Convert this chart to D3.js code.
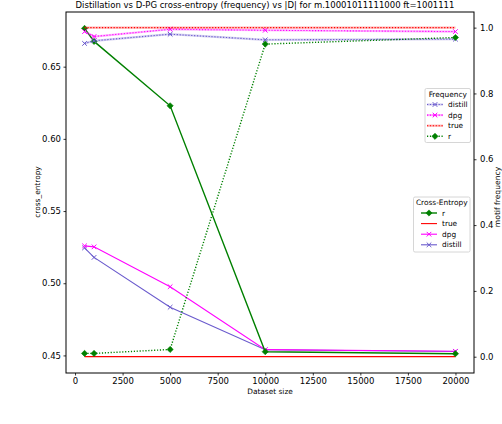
<!DOCTYPE html>
<html>
<head>
<meta charset="utf-8">
<script src="https://cdn.jsdelivr.net/npm/d3@7"></script>
<style>
  body { margin: 0; background: #fff; }
  text { font-family: "DejaVu Sans", sans-serif; fill: #000; }
</style>
</head>
<body>
<div id="chart"></div>
<script>
// dataset sizes on the x axis
var sizes = [500, 1000, 5000, 10000, 20000];

// cross-entropy (left axis, solid lines)
var ceR       = [0.6765, 0.6675, 0.6229, 0.4526, 0.4512];
var ceTrue    = [0.4492, 0.4492, 0.4492, 0.4492, 0.4492];
var ceDpg     = [0.5259, 0.5252, 0.4976, 0.4540, 0.4529];
var ceDistill = [0.5245, 0.5179, 0.4834, 0.4539, 0.4527];

// motif frequency (right axis, dotted lines)
var frDistill = [0.952, 0.960, 0.980, 0.963, 0.965];
var frDpg     = [0.988, 0.973, 0.995, 0.992, 0.988];
var frTrue    = [1.0, 1.0, 1.0, 1.0, 1.0];
var frR       = [0.010, 0.010, 0.022, 0.950, 0.970];

var xTicks  = [0, 2500, 5000, 7500, 10000, 12500, 15000, 17500, 20000];
var yLTicks = [0.45, 0.50, 0.55, 0.60, 0.65];
var yRTicks = [0.0, 0.2, 0.4, 0.6, 0.8, 1.0];

var title = "Distillation vs D-PG cross-entropy (frequency) vs |D| for m.10001011111000 ft=1001111";

var W = 502, H = 424;
var plot = {left: 66, right: 474, top: 12, bottom: 373};

function padded(lo, hi) {
    var m = (hi - lo) * 0.05;
    return [lo - m, hi + m];
}

var allCE = ceR.concat(ceTrue, ceDpg, ceDistill);

var xScale = d3.scaleLinear()
    .domain(padded(d3.min(sizes), d3.max(sizes)))
    .range([plot.left, plot.right]);

var yLeft = d3.scaleLinear()
    .domain(padded(d3.min(allCE), d3.max(allCE)))
    .range([plot.bottom, plot.top]);

// right axis range
var yRight = d3.scaleLinear()
    .domain([-0.0495, 1.0475])
    .range([plot.bottom, plot.top]);

var svg = d3.select("#chart").append("svg")
    .attr("width", W)
    .attr("height", H);

svg.append("rect").attr("width", W).attr("height", H).attr("fill", "#fff");

var green = "#008000", red = "#ff0000", magenta = "#ff00ff", slate = "#6a5acd";

var dotted = "1.2,1.7";

function drawMarker(g, kind, x, y, color) {
    if (kind == "x") {
        var s = 2.3;
        g.append("path")
            .attr("d", "M" + (x - s) + "," + (y - s) + "L" + (x + s) + "," + (y + s) +
                       "M" + (x - s) + "," + (y + s) + "L" + (x + s) + "," + (y - s))
            .attr("stroke", color)
            .attr("stroke-width", 1)
            .attr("fill", "none");
    } else if (kind == "D") {
        var d = 3.1;
        g.append("path")
            .attr("d", "M" + x + "," + (y - d) + "L" + (x + d) + "," + y +
                       "L" + x + "," + (y + d) + "L" + (x - d) + "," + y + "Z")
            .attr("fill", color)
            .attr("stroke", color)
            .attr("stroke-width", 0.6);
    }
}

// series definitions: values, colour, axis, style
function series(vals, color, scale, style, marker) {
    return {vals: vals, color: color, scale: scale, style: style, marker: marker};
}

var ceSeries = [
    series(ceTrue, red, yLeft, "solid", null),
    series(ceDistill, slate, yLeft, "solid", "x"),
    series(ceDpg, magenta, yLeft, "solid", "x"),
    series(ceR, green, yLeft, "solid", "D")
];

var frSeries = [
    series(frDistill, slate, yRight, "dotted", "x"),
    series(frDpg, magenta, yRight, "dotted", "x"),
    series(frTrue, red, yRight, "dotted", null),
    series(frR, green, yRight, "dotted", "D")
];

function drawSeries(s) {
    var g = svg.append("g");
    var line = d3.line()
        .x(function(d, i) { return xScale(sizes[i]); })
        .y(function(d) { return s.scale(d); });
    if (s.style == "solid") {
        g.append("path")
            .datum(s.vals)
            .attr("d", line)
            .attr("fill", "none")
            .attr("stroke", s.color)
            .attr("stroke-width", s.color == green ? 1.4 : 1.1);
    } else {
        // light band under the dotted frequency line
        if (s.color != green) {
            g.append("path")
                .datum(s.vals)
                .attr("d", line)
                .attr("fill", "none")
                .attr("stroke", s.color)
                .attr("stroke-opacity", 0.3)
                .attr("stroke-width", 2.2);
        }
        g.append("path")
            .datum(s.vals)
            .attr("d", line)
            .attr("fill", "none")
            .attr("stroke", s.color)
            .attr("stroke-width", s.color == green ? 1.4 : 1.1)
            .attr("stroke-dasharray", dotted);
    }
    if (s.marker) {
        s.vals.forEach(function(v, i) {
            drawMarker(g, s.marker, xScale(sizes[i]), s.scale(v), s.color);
        });
    }
}

ceSeries.forEach(drawSeries);
frSeries.forEach(drawSeries);

// frame
svg.append("rect")
    .attr("x", plot.left).attr("y", plot.top)
    .attr("width", plot.right - plot.left)
    .attr("height", plot.bottom - plot.top)
    .attr("fill", "none")
    .attr("stroke", "#000")
    .attr("stroke-width", 1);

// axes
function styleAxis(g) {
    g.select(".domain").remove();
    g.selectAll(".tick line").attr("stroke", "#000").attr("stroke-width", 0.8);
    g.selectAll(".tick text")
        .style("font-family", "DejaVu Sans")
        .style("font-size", "8.5px")
        .attr("fill", "#000");
}

svg.append("g")
    .attr("transform", "translate(0," + plot.bottom + ")")
    .call(d3.axisBottom(xScale).tickValues(xTicks).tickSize(2.5).tickPadding(2.5)
          .tickFormat(d3.format("d")))
    .call(styleAxis);

svg.append("g")
    .attr("transform", "translate(" + plot.left + ",0)")
    .call(d3.axisLeft(yLeft).tickValues(yLTicks).tickSize(2.5).tickPadding(2.5)
          .tickFormat(d3.format(".2f")))
    .call(styleAxis);

svg.append("g")
    .attr("transform", "translate(" + plot.right + ",0)")
    .call(d3.axisRight(yRight).tickValues(yRTicks).tickSize(2.5).tickPadding(3.5)
          .tickFormat(d3.format(".1f")))
    .call(styleAxis);

// title and labels
svg.append("text")
    .attr("x", 265)
    .attr("y", 7.6)
    .style("text-anchor", "middle")
    .style("font-size", "8.5px")
    .text(title);

svg.append("text")
    .attr("x", (plot.left + plot.right) / 2)
    .attr("y", 394)
    .style("text-anchor", "middle")
    .style("font-size", "7.4px")
    .text("Dataset size");

svg.append("text")
    .attr("transform", "translate(40,192) rotate(-90)")
    .style("text-anchor", "middle")
    .style("font-size", "7.4px")
    .text("cross_entropy");

svg.append("text")
    .attr("transform", "translate(500,197) rotate(-90)")
    .style("text-anchor", "middle")
    .style("font-size", "7.6px")
    .text("motif frequency");

// legends
function legend(box, titleText, items) {
    var g = svg.append("g");
    g.append("rect")
        .attr("x", box.x).attr("y", box.y)
        .attr("width", box.w).attr("height", box.h)
        .attr("rx", 1.5)
        .attr("fill", "#fff").attr("fill-opacity", 0.8)
        .attr("stroke", "#cccccc").attr("stroke-width", 0.8);
    g.append("text")
        .attr("x", box.x + box.w / 2)
        .attr("y", box.y + 8)
        .style("text-anchor", "middle")
        .style("font-size", "7.4px")
        .text(titleText);
    items.forEach(function(it, i) {
        var y = box.y + 16 + i * 10.6;
        var x0 = box.hx, x1 = box.hx + 16;
        if (it.s.style == "dotted" && it.s.color != green) {
            g.append("line")
                .attr("x1", x0).attr("x2", x1).attr("y1", y).attr("y2", y)
                .attr("stroke", it.s.color).attr("stroke-opacity", 0.3)
                .attr("stroke-width", 2.2);
        }
        g.append("line")
            .attr("x1", x0).attr("x2", x1).attr("y1", y).attr("y2", y)
            .attr("stroke", it.s.color)
            .attr("stroke-width", it.s.color == green ? 1.4 : 1.1)
            .attr("stroke-dasharray", it.s.style == "dotted" ? dotted : null);
        if (it.s.marker) drawMarker(g, it.s.marker, (x0 + x1) / 2, y, it.s.color);
        g.append("text")
            .attr("x", x1 + 5)
            .attr("y", y + 2.6)
            .style("font-size", "7.4px")
            .text(it.label);
    });
}

legend({x: 425, y: 88.5, w: 45.5, h: 54, hx: 427},
       "Frequency",
       [{label: "distill", s: frSeries[0]},
        {label: "dpg", s: frSeries[1]},
        {label: "true", s: frSeries[2]},
        {label: "r", s: frSeries[3]}]);

legend({x: 413.5, y: 197, w: 56.5, h: 55, hx: 421},
       "Cross-Entropy",
       [{label: "r", s: ceSeries[3]},
        {label: "true", s: ceSeries[0]},
        {label: "dpg", s: ceSeries[2]},
        {label: "distill", s: ceSeries[1]}]);
</script>
</body>
</html>
